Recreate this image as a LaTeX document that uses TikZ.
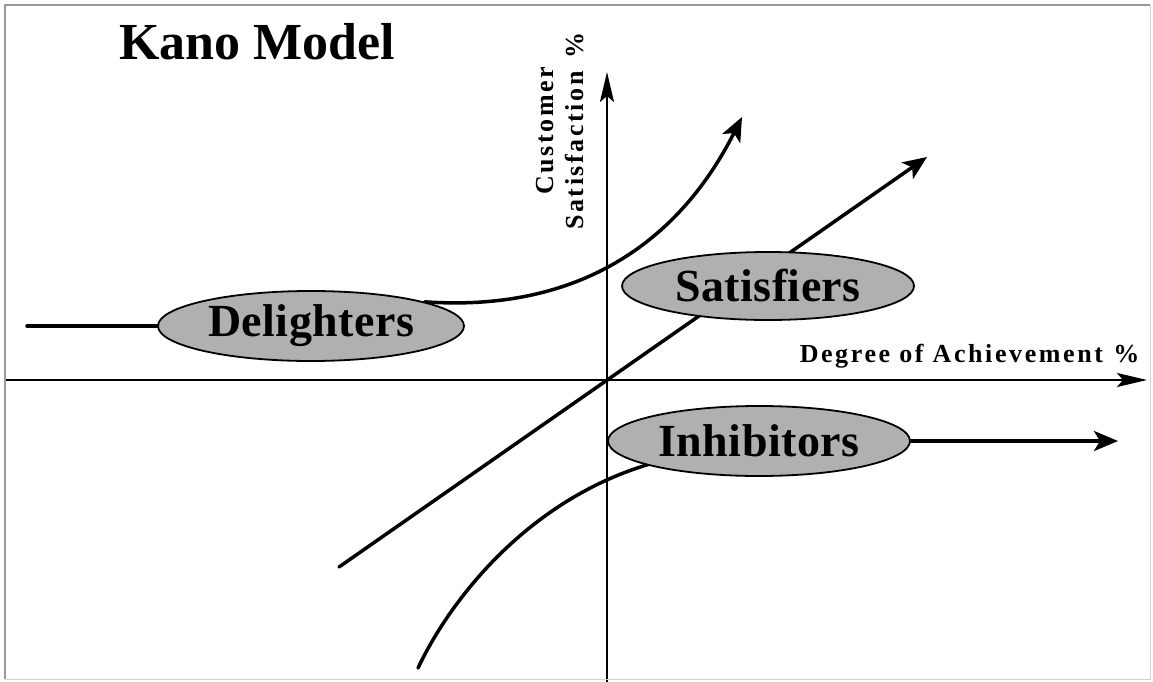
\documentclass[tikz,border=0pt]{standalone}
\usepackage{fontspec}
\setmainfont{Liberation Serif}
\usetikzlibrary{arrows.meta,shapes.geometric,backgrounds}
\begin{document}
\begin{tikzpicture}[x=1pt,y=-1pt,
  axis/.style={line width=2pt,-{Stealth[length=30pt,width=14pt,inset=6pt]}},
  curve/.style={line width=3.5pt,line cap=round},
  curvearrow/.style={curve,-{Stealth[length=24pt,width=20pt,inset=6pt]}},
  region/.style={ellipse,draw=black,line width=1.8pt,fill=gray!62,inner sep=0pt,
    font=\fontsize{46}{54}\selectfont\bfseries\addfontfeature{LetterSpace=1}},
  axislabel/.style={font=\fontsize{26}{30}\selectfont\bfseries\addfontfeature{LetterSpace=10}},
  titlefont/.style={font=\fontsize{52}{60}\selectfont\bfseries},
]
\useasboundingbox (0,0) rectangle (1153,682);

% frame
\draw[gray!80,line width=1.6pt] (5,679) -- (5,5) -- (1150,5);
\draw[gray!35,line width=1pt] (1150,5) -- (1150,679) -- (5,679);

% title
\node[titlefont,anchor=base west] (title) at (116,60) {Kano Model};

% category ellipses
\node[region,minimum width=306pt,minimum height=70pt] (delight) at (311,326) {Delighters};
\node[region,minimum width=292pt,minimum height=68pt] (satisf) at (768,286) {Satisfiers};
\node[region,minimum width=302pt,minimum height=70pt] (inhib) at (759,441) {Inhibitors};

% end points of the curves
\coordinate (vbot) at (607,682);
\coordinate (vtop) at (607,72);
\coordinate (hleft) at (5,380);
\coordinate (hright) at (1147,380);
\coordinate (dstart) at (27,326);
\coordinate (dtip) at (742,117);
\coordinate (sstart) at (339,567);
\coordinate (stip) at (927,157);
\coordinate (istart) at (418,668);
\coordinate (iend) at (665,460);
\coordinate (itip) at (1118,440);

% axis labels
\node[axislabel,anchor=base east] (xlab) at (1143,362) {Degree of Achievement\hspace{.4em}\%};
\node[axislabel,rotate=90,align=center] (ylab) at (560,131) {Customer\\Satisfaction\hspace{.5em}\%};

\begin{scope}[on background layer]
  % axes
  \draw[axis] (vbot) -- (vtop);
  \draw[axis] (hleft) -- (hright);
  % delighters
  \draw[curve] (dstart) -- (delight.west);
  \draw[curvearrow] (delight.12) .. controls (570,312) and (675,250) .. (dtip);
  % satisfiers
  \draw[curvearrow] (sstart) -- (stip);
  % inhibitors
  \draw[curve] (istart) .. controls (455,590) and (540,490) .. (iend);
  \draw[curvearrow] (inhib.east) -- (inhib.east -| itip);
\end{scope}
\end{tikzpicture}
\end{document}
